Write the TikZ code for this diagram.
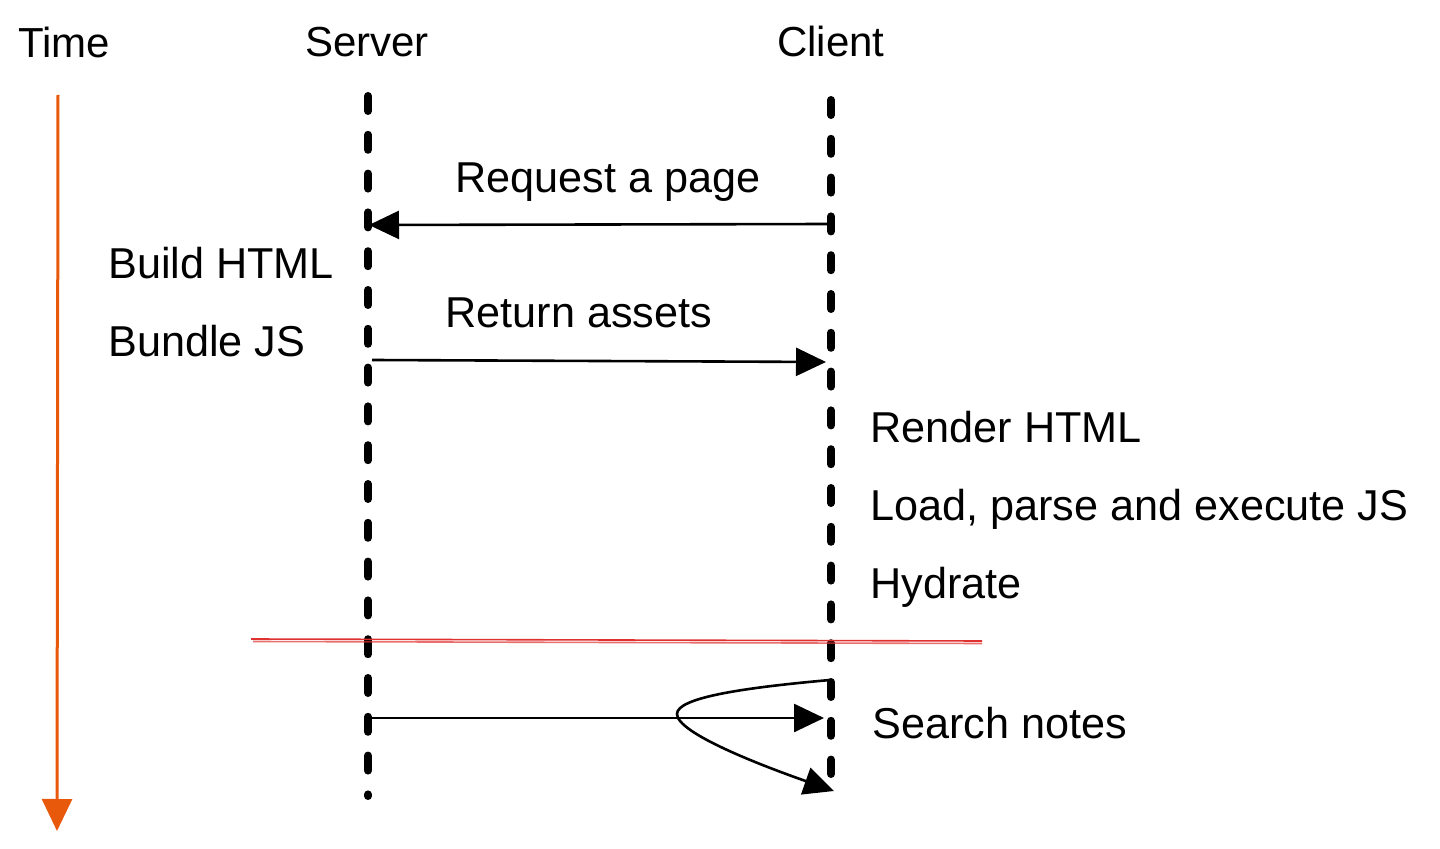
\documentclass[tikz,border=0pt]{standalone}
\usepackage{fontspec}
\setmainfont{Liberation Sans}
\usetikzlibrary{arrows.meta}
\definecolor{timeorange}{HTML}{E8590C}
\definecolor{cutred}{HTML}{E03131}
\begin{document}
\begin{tikzpicture}[x=0.5pt,y=-0.5pt,
  lbl/.style={anchor=base west,inner sep=0pt,font=\fontsize{21.6}{26}\selectfont},
  head/.style={anchor=base,inner sep=0pt,font=\fontsize{21}{25}\selectfont},
  lane/.style={line width=4pt,line cap=round,dash pattern=on 7.5pt off 11.9pt},
  msg/.style={line width=1.3pt,-{Triangle[length=15pt,width=14pt]}},
  cut/.style={cutred,line width=0.8pt}]
\useasboundingbox (0,0) rectangle (1440,849);
% headers
\node[lbl,font=\fontsize{21}{25}\selectfont] (time) at (18,58) {Time};
\node[head] (server) at (367,57) {Server};
\node[head] (client) at (831,57) {Client};
% time arrow
\coordinate (t0) at (58,95);
\coordinate (t1) at (57,831);
\draw[timeorange,line width=1.5pt,-{Triangle[length=16pt,width=15pt]}] (t0) -- (t1);
% lanes
\coordinate (s0) at (368,96);
\coordinate (s1) at (368,796);
\coordinate (c0) at (831,100);
\coordinate (c1) at (831,774);
\draw[lane] (s0) -- (s1);
\draw[lane] (c0) -- (c1);
% request
\coordinate (rq0) at (831,224);
\coordinate (rq1) at (369,225);
\draw[msg] (rq0) -- (rq1);
\node[lbl] (request) at (455,193) {Request a page};
% server work
\node[lbl] (build) at (108,279) {Build HTML};
\node[lbl] (bundle) at (108,357) {Bundle JS};
% return
\coordinate (ra0) at (372,360);
\coordinate (ra1) at (826,362);
\draw[msg] (ra0) -- (ra1);
\node[lbl] (return) at (445,328) {Return assets};
% client work
\node[lbl] (render) at (870,443) {Render HTML};
\node[lbl] (load) at (870,521) {Load, parse and execute JS};
\node[lbl] (hydrate) at (870,598) {Hydrate};
% cut line
\coordinate (r0) at (251,639);
\coordinate (r1) at (982,641);
\coordinate (r2) at (253,641.5);
\coordinate (r3) at (982,643.5);
\draw[cut] (r0) -- (r1);
\draw[cut,opacity=0.7] (r2) -- (r3);
% bottom
\coordinate (b0) at (370,718);
\coordinate (b1) at (824,718);
\draw[msg] (b0) -- (b1);
\coordinate (k0) at (830,680);
\coordinate (kl) at (677,714);
\coordinate (k1) at (834,791);
\draw[msg] (k0) .. controls (740,688) and (677,698) .. (kl)
  .. controls (677,733) and (760,765) .. (k1);
\node[lbl] (search) at (872,738) {Search notes};
\end{tikzpicture}
\end{document}
